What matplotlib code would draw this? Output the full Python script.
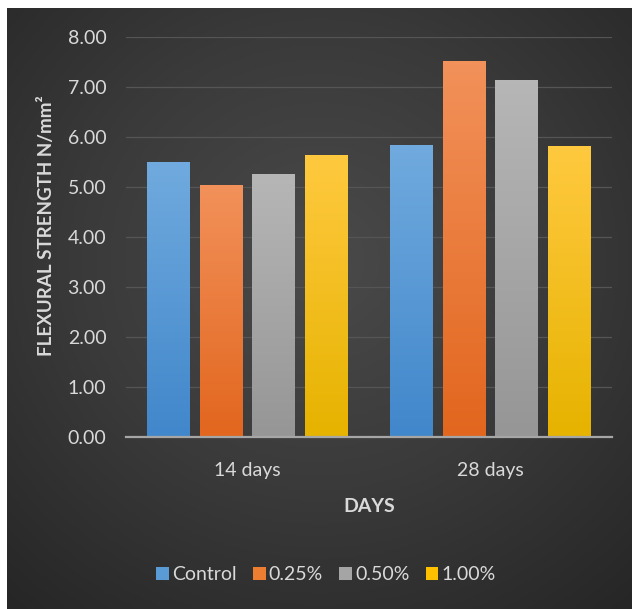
import numpy as np
import matplotlib.pyplot as plt
from matplotlib.colors import LinearSegmentedColormap

plt.rcParams['font.family'] = ['Lato', 'DejaVu Sans']

# data
days = ['14 days', '28 days']
series = ['Control', '0.25%', '0.50%', '1.00%']
control = [5.50, 5.83]
pct_025 = [5.03, 7.52]
pct_050 = [5.25, 7.14]
pct_100 = [5.63, 5.81]
values = [control, pct_025, pct_050, pct_100]

# (top, bottom) gradient colours per series
grad_cols = [('#70aade', '#4187cb'),
             ('#f2915a', '#e2661e'),
             ('#b6b6b6', '#969696'),
             ('#ffc93f', '#e6b300')]
legend_cols = ['#5b9bd5', '#ed7d31', '#a5a5a5', '#ffc000']

W, H = 632, 609
fig = plt.figure(figsize=(W / 100, H / 100), dpi=100, facecolor='white')

# dark radial background
bg = fig.add_axes([7 / W, 0, 1 - 7 / W, 1 - 8 / H], zorder=-5)
yy, xx = np.mgrid[0:1:300j, 0:1:300j]
d = np.sqrt(((xx - 0.5) / 0.75) ** 2 + ((yy - 0.42) / 0.75) ** 2)
d = np.clip(d / d.max(), 0, 1)
bgmap = LinearSegmentedColormap.from_list('bg', ['#4a4a4a', '#3a3a3a', '#262626'])
bg.imshow(d, cmap=bgmap, aspect='auto', extent=[0, 1, 0, 1], origin='upper', vmin=0, vmax=1)
bg.set_axis_off()

ax = fig.add_axes([125.8 / W, 1 - 436.7 / H, 486 / W, 400 / H])
ax.set_facecolor('none')

x = np.arange(len(days))
width = 0.175
step = 0.217
for i, (vals, (ctop, cbot)) in enumerate(zip(values, grad_cols)):
    pos = x + (i - 1.5) * step
    bars = ax.bar(pos, vals, width, color=legend_cols[i], label=series[i], zorder=3)
    cmap = LinearSegmentedColormap.from_list('g%d' % i, [cbot, ctop])
    for b in bars:
        bx, by = b.get_x(), b.get_y()
        bw, bh = b.get_width(), b.get_height()
        grad = np.linspace(1, 0, 100).reshape(-1, 1)
        im = ax.imshow(grad, cmap=cmap, aspect='auto', vmin=0, vmax=1,
                       extent=[bx, bx + bw, by, by + bh], zorder=4)
        im.set_clip_path(b)

ax.set_xlim(-0.5, 1.5)
ax.set_ylim(0, 8)
ax.set_yticks(np.arange(0, 9, 1))
ax.set_yticklabels(['%.2f' % v for v in np.arange(0, 9, 1)])
ax.set_xticks(x)
ax.set_xticklabels(days)
ax.yaxis.grid(True, color='#555555', lw=0.9, zorder=0)
ax.set_axisbelow(True)
for s in ['top', 'right', 'left']:
    ax.spines[s].set_visible(False)
ax.spines['bottom'].set_color('#a6a6a6')
ax.spines['bottom'].set_linewidth(1.6)
ax.spines['bottom'].set_zorder(5)
ax.tick_params(axis='y', length=0, colors='#d9d9d9', labelsize=14, pad=14)
ax.tick_params(axis='x', length=0, colors='#d9d9d9', labelsize=14, pad=18)

ax.set_ylabel('FLEXURAL STRENGTH N/mm²', color='#d9d9d9', fontsize=13.5,
              fontweight='bold')
ax.yaxis.set_label_coords(-0.145, 0.528)
ax.set_xlabel('DAYS', color='#d9d9d9', fontsize=14, fontweight='bold')
ax.xaxis.set_label_coords(0.5, -0.153)

leg = ax.legend(loc='center', bbox_to_anchor=(326 / W, 1 - 575 / H),
                bbox_transform=fig.transFigure, ncol=4, frameon=False,
                fontsize=14, handlelength=0.65, handleheight=0.65,
                handletextpad=0.15, columnspacing=0.85, labelcolor='#d9d9d9')

fig.savefig('out.png', dpi=100, facecolor='white')
